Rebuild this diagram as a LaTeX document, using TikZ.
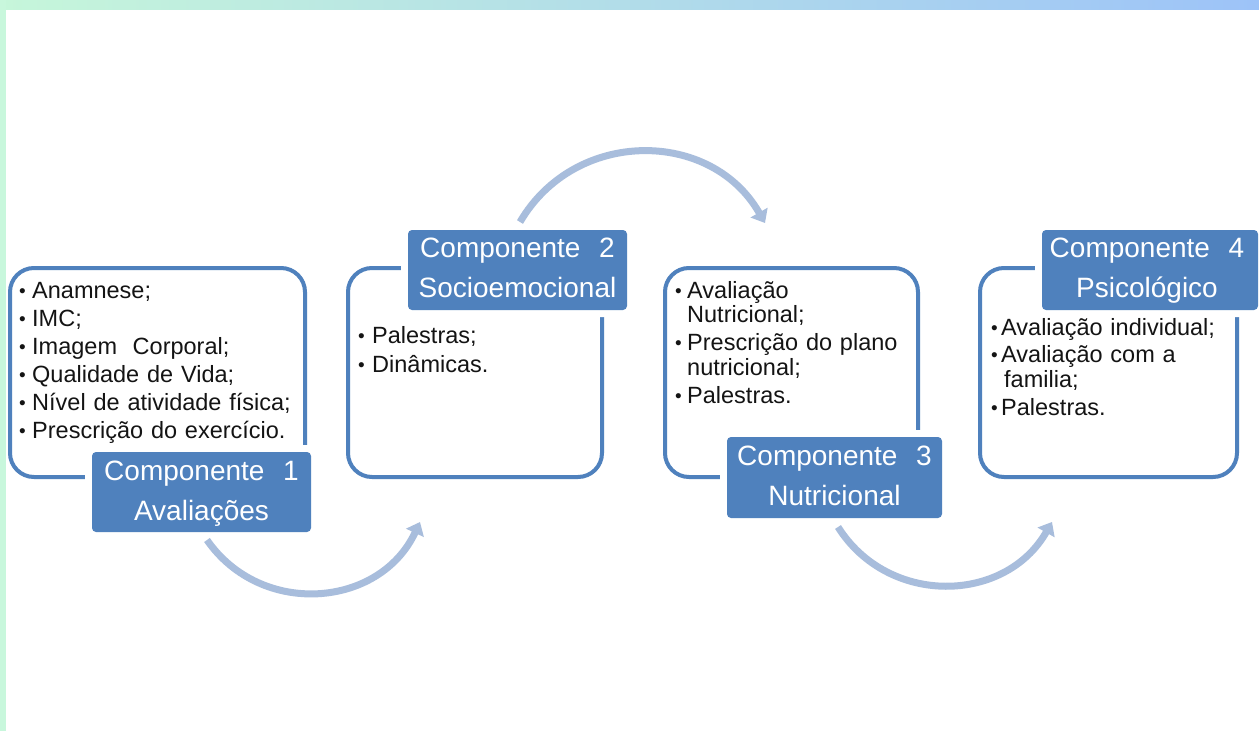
\documentclass[tikz,border=0pt]{standalone}
\usepackage{fontspec}
\setmainfont{Liberation Sans}
\usetikzlibrary{arrows.meta}
\definecolor{hdrblue}{RGB}{79,129,189}
\definecolor{arrowblue}{RGB}{168,189,220}
\definecolor{bandL}{RGB}{198,246,218}
\definecolor{bandR}{RGB}{157,195,248}
\definecolor{stripgreen}{RGB}{200,247,220}
\newcommand\bul[1]{\makebox[#1][l]{\raisebox{1pt}{\fontsize{19}{19}\selectfont\char"2022}}}
\begin{document}
\begin{tikzpicture}[x=1pt,y=-1pt,
  panel/.style={draw=hdrblue, line width=4pt, fill=white, rounded corners=24pt, inner sep=0pt},
  header/.style={fill=hdrblue, rounded corners=4pt, inner sep=0pt, preaction={draw=white, line width=14pt}},
  bodytext/.style={font=\fontsize{23.5}{24.5}\selectfont, text=black!92, inner sep=0pt, text width=300pt, align=left, anchor=base west},
  titletext/.style={font=\fontsize{28}{40}\selectfont, text=white, inner sep=0pt, text width=215pt, align=center, anchor=base},
  flow/.style={draw=arrowblue, line width=7pt, -{Triangle[length=12pt,width=19pt]}}]
\useasboundingbox (0,0) rectangle (1259,731);
\fill[white] (0,0) rectangle (1259,731);
\shade[left color=bandL, right color=bandR] (0,0) rectangle (1259,9);
\fill[stripgreen] (0,0) rectangle (6,731);

% panels
\node[panel, minimum width=295pt, minimum height=209pt] (p1) at (157.5,372.5) {};
\node[panel, minimum width=254pt, minimum height=209pt] (p2) at (475,372.5) {};
\node[panel, minimum width=253pt, minimum height=209pt] (p3) at (791.5,372.5) {};
\node[panel, minimum width=257pt, minimum height=209pt] (p4) at (1108.5,372.5) {};

% headers
\node[header, minimum width=219pt, minimum height=80pt] (h1) at (201.5,492) {};
\node[header, minimum width=219pt, minimum height=80pt] (h2) at (517.5,270) {};
\node[header, minimum width=215pt, minimum height=81pt] (h3) at (834.5,477.5) {};
\node[header, minimum width=216pt, minimum height=80pt] (h4) at (1150,270) {};

\node[titletext] (t1) at (201.5,480) {Componente\ \ 1\\Avaliações};
\node[titletext] (t2) at (517.5,257) {Componente\ \ 2\\Socioemocional};
\node[titletext] (t3) at (834.5,465) {Componente\ \ 3\\Nutricional};
\node[titletext] (t4) at (1147,257) {Componente\ \ 4\\Psicológico};

% body texts
\node[bodytext] (b1) at (19,298) {\bul{13pt}Anamnese;\\[3.5pt]\bul{13pt}IMC;\\[3.5pt]\bul{13pt}Imagem\ \ Corporal;\\[3.5pt]\bul{13pt}Qualidade de Vida;\\[3.5pt]\bul{13pt}Nível de atividade física;\\[3.5pt]\bul{13pt}Prescrição do exercício.};
\node[bodytext] (b2) at (358,343) {\bul{14pt}Palestras;\\[4.5pt]\bul{14pt}Dinâmicas.};
\node[bodytext] (b3) at (675,298) {\bul{12pt}Avaliação\\\hspace*{12pt}Nutricional;\\[3.5pt]\bul{12pt}Prescrição do plano\\\hspace*{12pt}nutricional;\\[3.5pt]\bul{12pt}Palestras.};
\node[bodytext] (b4) at (991,335) {\bul{10pt}Avaliação individual;\\[3pt]\bul{10pt}Avaliação com a\\\hspace*{13pt}familia;\\[3.5pt]\bul{10pt}Palestras.};

% curved arrows
\coordinate (a1s) at (207,540);
\coordinate (a1e) at (420,522);
\coordinate (a2s) at (520,222);
\coordinate (a2e) at (765,223);
\coordinate (a3s) at (838,527);
\coordinate (a3e) at (1052,522);
\draw[flow] (a1s) .. controls (261.2,617.9) and (379.8,608.0) .. (a1e);
\draw[flow] (a2s) .. controls (574.9,128.1) and (711.1,128.5) .. (a2e);
\draw[flow] (a3s) .. controls (888.3,606.6) and (1005.3,603.8) .. (a3e);
\end{tikzpicture}
\end{document}
